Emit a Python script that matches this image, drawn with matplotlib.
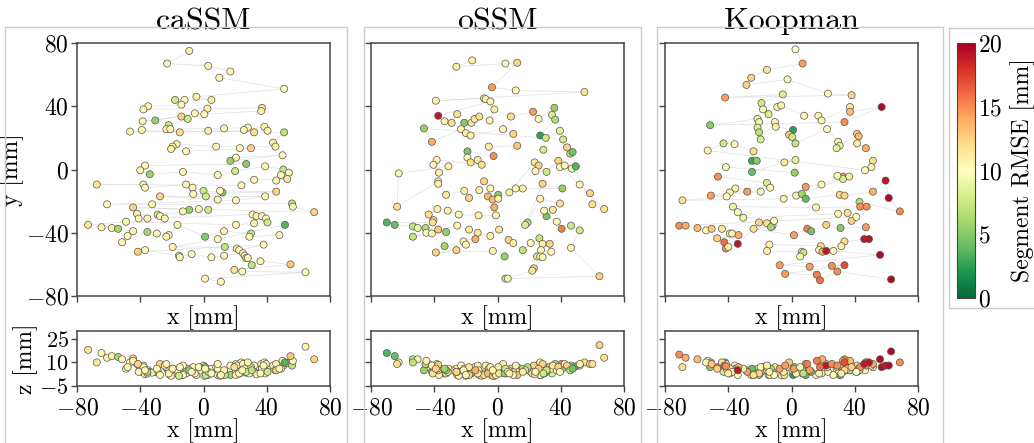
"""
Segment RMSE maps for caSSM, oSSM and Koopman (xy view + xz view).
"""

import matplotlib
matplotlib.use('Agg')
import matplotlib.pyplot as plt
from matplotlib.lines import Line2D
from matplotlib.patches import Rectangle
from matplotlib.cm import ScalarMappable
from matplotlib.colors import Normalize

plt.rcParams['font.family'] = 'serif'
plt.rcParams['font.serif'] = ['cmr10']
plt.rcParams['mathtext.fontset'] = 'cm'
plt.rcParams['axes.formatter.use_mathtext'] = True

# ---- caSSM ----
CASSM_X = [-9, -23, 3, 17, 10, 51, -4.5, 5, -18, -12,
           -14, -35, -38, 2.5, 37, 36.5, 0.5, -5.5, -30.5, -38.5,
           -14, -10, -22, -23.5, -21, 13, 28, 25.5, 38.5, 40.5,
           -46.5, -39, -15, 3, 32, 51, 44, 45.5, 8, -17,
           -19.5, -20.5, -11, 30, 23, 20.5, 50, 17, 27, -37,
           -40, -34, -13, 9, 20, 39, 50.5, 54, 49, 46,
           53, 32, 24, -67.5, -38, -37, -11, -7, 0, 12,
           10.5, 46, -6.5, 1.5, 9, -27.5, 39, 20.5, -61, -32.5,
           56, 56.5, 70, -44.5, -9, -13, -3, 3, -29, -27.5,
           -24.5, -42, -41, -35.5, 31, 33.5, 37, 39.5, 40.5, 32,
           20.5, -49, -73, -64.5, -58, -54, -44.5, -48, -51.5, -35.5,
           -29.5, -22, -23.5, -16.5, 1, 13, 30, 29, 48, 51.5,
           9, -19.5, 13.5, 21, 22.5, 38, -41.5, -37, -15.5, -15,
           -7.5, 5, 13, 25, 26, 27, 28, 30.5, 36, 55,
           19.5, 24.5, 64.5, 1, 11]
CASSM_Y = [75, 67, 65.5, 62, 58, 51, 46, 44, 44, 44,
           41, 40, 38, 38.5, 39, 37, 35, 35.5, 31, 30.5,
           33.5, 32, 28, 25.5, 25.5, 26, 26.5, 25, 27, 24.5,
           24, 25, 23.5, 24.5, 23.5, 23.5, 17, 14.5, 14.5, 16,
           14.5, 13, 11.5, 13.5, 13.5, 7.5, 9, 5.5, 3.5, 2.5,
           -0.5, -3, -1.5, -3.5, -1, 2, 0, -2, -3.5, -7,
           -6, -6.5, -10, -9.5, -9.5, -11.5, -9.5, -11.5, -13.5, -14.5,
           -13.5, -14, -15.5, -17, -19, -17, -17, -19.5, -22, -22,
           -21.5, -23.5, -27, -24, -25.5, -26.5, -25, -25.5, -28.5, -29.5,
           -31, -28, -31, -31, -28.5, -29.5, -29.5, -31, -33.5, -34,
           -35, -33, -35, -36.5, -37, -37.5, -39, -42, -46, -39.5,
           -40.5, -41.5, -42.5, -35, -42.5, -39, -40.5, -42.5, -41.5, -35,
           -44, -49, -49, -50, -51, -47.5, -52, -51, -54.5, -55.5,
           -53.5, -55.5, -54.5, -53, -54.5, -56, -56, -60.5, -58, -60,
           -63.5, -64.5, -65, -69, -71]
CASSM_Z = [4, 6, 5, 8, 3, 9, 2, 6, 5, 3,
           7, 5, 8, 4, 6, 9, 1.5, 3, 4, 6,
           2, 6, 4, 7, 2, 3, 8, 5, 10, 7,
           10, 4, 5, 2, 4, 9, 8, 5, 7, 3,
           6, 1.5, 4, 6, 3, 9, 11, 2, 3.5, 3,
           6, 4, 8, 2, 7, 5, 8, 10, 6, 9,
           9.5, 4, 10, 10, 7, 2.5, 3, 5, 8, 4,
           1.5, 5, 7, 2, 6, 9, 3, 5, 13, 3.5,
           8, 11, 12, 12.5, 5, 2, 7, 4, 5, 2,
           8, 9, 4, 3, 5, 2.5, 6, 9, 4, 8,
           2, 6, 18, 16, 14, 13.5, 11, 7, 12, 4,
           6, 3, 9, 5, 7, 4, 7, 3, 6, 10,
           9, 6, 2, 8, 3, 8, 9, 5, 1.5, 7,
           4, 3, 5, 9, 6, 4, 10, 5, 3, 14,
           7, 5, 20, 6, 2]
CASSM_ERR = [11, 10.5, 10.5, 10.5, 10.5, 10, 11, 11, 7.5, 10.5,
             10.5, 10.5, 10.5, 10.5, 11.5, 11, 10.5, 10.5, 5.5, 10.5,
             12.5, 7.5, 7.5, 11, 10.5, 10.5, 11, 10.5, 10.5, 11,
             10.5, 10.5, 12, 11, 12, 7, 11, 11, 10.5, 10.5,
             10.5, 11, 10.5, 12.5, 10.5, 10.5, 10.5, 5.5, 5, 10.5,
             10.5, 5.5, 10.5, 10.5, 7.5, 10.5, 7, 10.5, 10.5, 10.5,
             11.5, 10.5, 10.5, 11.5, 10.5, 10.5, 10.5, 10.5, 7.5, 5,
             10.5, 12.5, 10.5, 7.5, 10.5, 12.5, 10.5, 10.5, 10.5, 10.5,
             7, 10.5, 12.5, 12.5, 5.5, 10.5, 10.5, 7.5, 7.5, 10.5,
             10.5, 10.5, 10.5, 10.5, 10.5, 10.5, 10.5, 10.5, 7.5, 10.5,
             10.5, 10.5, 11.5, 10.5, 11, 6, 10.5, 10.5, 10.5, 6,
             10.5, 10.5, 10.5, 10.5, 5, 10.5, 7, 10.5, 10.5, 3.5,
             10.5, 10.5, 7, 10.5, 10.5, 10.5, 12.5, 10.5, 7.5, 10.5,
             10.5, 10.5, 10.5, 10.5, 10.5, 7.5, 10.5, 7, 10.5, 13,
             12, 10.5, 10.5, 10.5, 10.5]

# ---- oSSM ----
OSSM_X = [-16, -26, 5, 12.5, -3.5, 11.5, 55, -39, -8.5, -7.5,
          -4.5, -37.5, -33.5, -29, -25.5, -21, -16.5, -14.5, -11.5, -5,
          -2, 8.5, 22.5, 26, 36, 34.5, 36.5, 27, 30.5, 39.5,
          41.5, -46.5, -41.5, -23, -20, -17, 3.5, 10, 12.5, -5.5,
          -2.5, -19, -19, -17, -12.5, -10, -38.5, -40.5, -37, -31,
          -62.5, -63.5, -37.5, -37.5, -32.5, -21, -18, -11.5, -8.5, -4.5,
          -6, -3, 0.5, 0.5, -2, -1, -12, -24.5, -31.5, -38,
          -43.5, -40.5, -41, -70, -65, -53.5, -50.5, -45.5, -45, -41.5,
          -37.5, -32.5, -53.5, -25.5, -18, -12.5, -14, -4.5, 1, -21.5,
          -20, -33.5, -26, -39, -3, 4.5, 7, 10, 16, 21,
          26.5, 28.5, 33, 27.5, 34, 25, 27, 28.5, 23, 22,
          5, 6.5, 64.5, 46.5, 52, 46.5, 40.5, 37.5, 31, 29.5,
          35, 39.5, 27, 19, 17.5, 28.5, 41, 16, 11.5, 7.5,
          23.5, 26, 24, 31, 38.5, 39.5, 42.5, 47, 49.5, 44,
          46, 47.5, 52, 58.5, 60, 67.5, 29]
OSSM_Y = [69, 65, 67, 67.5, 52, 50, 49, 43.5, 45, 44.5,
          43, 34, 30.5, 29.5, 35, 29.5, 29.5, 32, 33.5, 31,
          38, 33.5, 36.5, 32, 39, 34.5, 31.5, 21.5, 20, 24.5,
          19, 26, 17.5, 25.5, 23, 21.5, 25.5, 22.5, 15, 14.5,
          8.5, 11.5, 7.5, 4.5, 6, 3, 6, 3, -2, 2,
          -2.5, -23.5, -7.5, -9, -16, -13.5, -18, -13, -7.5, -12,
          -17, -19, -16, -18.5, -24, -29, -29, -28.5, -26, -25,
          -28.5, -32, -33.5, -33.5, -35, -36, -37, -37, -40, -40.5,
          -38, -39.5, -42.5, -35.5, -38, -40, -44, -42, -38, -45.5,
          -47.5, -48.5, -51, -52.5, -51.5, -55, -44.5, -46.5, -51, -46.5,
          -43.5, -47, -47, -51, -52, -55, -55, -55.5, -62.5, -64,
          -69, -69, -67.5, -49.5, -38.5, -35.5, -37.5, -33, -29.5, -26,
          -25.5, -21.5, -18.5, -33.5, -35, -9, -12, -12, -12, -14.5,
          4.5, 2.5, -1, -1.5, 5.5, 1.5, 2.5, 0.5, 2, 14,
          10, 11, -9.5, -15, -22, -25, 12.5]
OSSM_Z = [4, 6, 3, 7, 2, 5, 10, 6, 3, 8,
          4.5, 7, 3, 5, 2, 6, 3, 7, 2, 5,
          1.5, 6, 4, 8, 6, 3, 9, 2, 7, 5,
          8, 5, 4, 8, 1.5, 4, 9, 4, 2, 6,
          3, 2, 5, 3, 8, 1.5, 9, 4, 2, 6,
          10, 9, 7, 5, 3, 6, 2, 4, 2, 6,
          3, 1.5, 4, 7, 3.5, 2, 5, 1.5, 4, 6,
          9, 7, 3, 16, 14, 12, 12, 9, 11, 8,
          8.5, 5, 10, 4, 7, 3, 5, 7, 3, 5,
          2, 6, 4, 6, 5, 3, 5, 2, 6, 4,
          9, 3, 7, 2, 6, 4, 10, 5, 8, 3,
          6, 4, 21, 8, 8, 7, 9, 5, 4, 3,
          8, 5, 2, 7, 5, 9, 6, 4, 8, 3,
          2.5, 6, 4, 5, 7, 4, 9, 6, 7.5, 8,
          5, 6, 9, 9, 9, 13, 3]
OSSM_ERR = [11, 11, 10.5, 12.5, 14.5, 10.5, 12, 10.5, 11, 11,
            11, 19, 10.5, 12, 12, 5, 11.5, 11, 12, 10.5,
            11, 12, 14.5, 10.5, 5.5, 8, 6.5, 2.5, 7.5, 8.5,
            7.5, 5.5, 14, 10.5, 11, 11, 10.5, 12.5, 13, 11,
            15, 4.5, 10.5, 12, 11, 12, 10.5, 10.5, 11, 11,
            10.5, 12, 11, 11, 11.5, 11, 12.5, 11, 12.5, 10.5,
            13.5, 13.5, 5, 11, 14, 10.5, 11, 10.5, 11, 11,
            12, 12.5, 12, 3.5, 4, 7, 9, 6.5, 10.5, 10.5,
            13, 5.5, 7, 10.5, 11.5, 11.5, 14, 11, 11.5, 10.5,
            10.5, 6, 12.5, 12.5, 10.5, 5.5, 12.5, 11, 7, 10.5,
            7, 11, 12.5, 10.5, 10.5, 8, 10, 9.5, 12.5, 11.5,
            7.5, 9.5, 12.5, 10.5, 7.5, 7.5, 15.5, 10.5, 4.5, 10.5,
            11.5, 12, 10.5, 6.5, 8, 12.5, 5.5, 11, 10.5, 11,
            11.5, 12.5, 10.5, 7.5, 12.5, 10.5, 10.5, 9, 3.5, 12.5,
            7, 4.5, 10.5, 12.5, 12, 12, 7.5]

# ---- Koopman ----
KOOP_X = [2.5, 7, -15.5, -25.5, -28.5, -2.5, 23, 38, -42, -5.5,
          -19, -18, -14.5, -9, -6.5, 8, 17, 19, 37, 37,
          57, 33.5, -51.5, -21.5, -20.5, -21.5, -20.5, -19.5, -10.5, -10,
          1, -1.5, 0.5, 2.5, 22.5, 29.5, 30.5, 28.5, 41.5, 42.5,
          41.5, 47, 51.5, 50.5, 46.5, -53, -43, -36, -24, -25,
          -22, -25, -4.5, 2.5, 2, -41.5, -46.5, -15.5, -13.5, -35.5,
          -39, -28, -19.5, -51, -41, -69, -5, 9, 19, 32.5,
          32.5, 29, 36.5, 3, 6.5, 9, 30.5, 33.5, 51.5, 59.5,
          61.5, 68.5, 43, 43.5, 47.5, 15.5, -37, -34, -30.5, 29.5,
          35.5, 38, 41, -71, -67, -59.5, -54, -50.5, -44, -39,
          -37.5, -33.5, -47, -42.5, -41.5, -40, -34, -20.5, -15.5, -12,
          -11, -13, -24, 1.5, 10, 12.5, 22, 31, 47, 46,
          49, 33.5, 31.5, -14, -15.5, 6.5, 7.5, 5.5, 18.5, 17.5,
          19.5, 22, 26.5, 56, -7.5, 11.5, 25.5, 33.5, -4, 16,
          18, 29, 63]
KOOP_Y = [76, 67, 63, 58, 53.5, 57, 48, 47, 45.5, 47.5,
          42, 38, 35, 39.5, 40.5, 34, 34, 31, 39.5, 36.5,
          39.5, 30, 28, 32, 30, 26.5, 23.5, 19, 30, 27,
          25, 22, 20.5, 16.5, 25.5, 17.5, 15, 13.5, 22.5, 21,
          16.5, 13.5, 5.5, 1.5, -0.5, 12, 16.5, 16, 11.5, 5.5,
          5.5, -1.5, 4.5, 6, -2, 1.5, -4.5, -8.5, -11.5, -12,
          -14.5, -14, -14, -16.5, -17, -19.5, -18.5, -11, -9.5, -4.5,
          -6, -4, -4.5, -16.5, -15.5, -18.5, -16, -16.5, -14, -7,
          -18, -26.5, -20.5, -23.5, -23.5, -24, -23.5, -27, -30.5, -28,
          -27.5, -32.5, -30, -35.5, -35.5, -37, -38.5, -37.5, -37.5, -40.5,
          -40.5, -41.5, -43.5, -46, -50, -49, -47, -33.5, -34, -35.5,
          -32.5, -36.5, -37.5, -41.5, -37.5, -39, -35, -37, -36.5, -44,
          -44, -45.5, -48.5, -47.5, -51.5, -52, -52.5, -55, -48.5, -51,
          -52, -51.5, -51.5, -54, -60.5, -61.5, -61, -60.5, -66, -66.5,
          -70, -64.5, -69.5]
KOOP_Z = [4, 3, 6, 2, 5, 7, 4, 8, 10, 3,
          4, 7, 2, 5, 2, 6, 3, 8, 5, 11,
          7, 12, 7, 5, 3, 6, 2, 4, 7, 3,
          2, 10, 5, 3, 7, 4, 2, 6, 8, 6,
          4, 10, 7, 8, 5, 11, 4, 8, 2, 5,
          3, 6, 2, 4, 7, 9, 7, 5, 2, 6,
          3, 4, 7, 10, 6, 7, 4, 9, 3, 11,
          4, 7, 5, 3, 6, 2, 8, 5, 9, 8,
          8, 10, 5, 7, 10, 2, 5, 2, 6, 3,
          6, 7, 4, 15, 13, 12, 10, 9, 10, 6,
          4, 7, 6, 8, 7.5, 3, 5, 3, 7, 4,
          2, 6, 2, 6, 9, 4, 9, 2, 8, 9,
          10, 5, 3, 4, 8, 5, 3, 7, 11, 3,
          12, 8, 2, 12, 6, 5, 9, 10, 8, 11,
          7, 8, 17]
KOOP_ERR = [10, 14.5, 11.5, 12.5, 12.5, 10.5, 10.5, 12.5, 14.5, 8,
            7.5, 9.5, 8, 11, 10.5, 10.5, 10.5, 10.5, 11.5, 13.5,
            19.5, 15, 5, 9.5, 9, 8, 7, 8, 10.5, 11,
            2.5, 13, 7.5, 7, 10.5, 11, 8.5, 9, 12.5, 13.5,
            11, 14, 12, 11, 10.5, 10.5, 7.5, 10.5, 12, 3,
            5, 4, 11.5, 8.5, 5.5, 9.5, 15, 8, 10.5, 9,
            11, 14.5, 10.5, 14.5, 10, 12, 11, 14.5, 10.5, 14.5,
            8, 10.5, 11, 10.5, 6, 4, 12.5, 12.5, 14, 19,
            19.5, 15, 6.5, 15, 15, 10.5, 9, 10, 9, 10.5,
            12, 12.5, 10, 15, 14, 13.5, 10.5, 13, 11.5, 11,
            11, 14, 12.5, 16, 15, 11, 19, 12.5, 12, 12,
            10, 6, 12, 14.5, 15.5, 4.5, 12.5, 5, 14.5, 19,
            19, 12, 11, 11, 11, 11, 7, 9.5, 12, 10.5,
            14, 19, 10.5, 19.5, 14.5, 14.5, 15, 17, 14.5, 15.5,
            16, 15, 19.5]

MODELS = ['caSSM', 'oSSM', 'Koopman']
PANELS = [(CASSM_X, CASSM_Y, CASSM_Z, CASSM_ERR),
          (OSSM_X, OSSM_Y, OSSM_Z, OSSM_ERR),
          (KOOP_X, KOOP_Y, KOOP_Z, KOOP_ERR)]

CMAP = 'RdYlGn_r'
NORM = Normalize(vmin=0, vmax=20)

W, H = 1034, 443
fig = plt.figure(figsize=(W / 100, H / 100), dpi=100)


def fx(px):
    return px / W


def fy(py):
    return 1 - py / H


# light frames around each column and the colorbar
frame_kw = dict(color='#cccccc', linewidth=1.0, transform=fig.transFigure)
for x0, x1 in [(5, 347), (364, 641), (657, 943)]:
    fig.add_artist(Line2D([fx(x0), fx(x1)], [fy(26.5), fy(26.5)], **frame_kw))
    fig.add_artist(Line2D([fx(x0), fx(x0)], [fy(26.5), 0], **frame_kw))
    fig.add_artist(Line2D([fx(x1), fx(x1)], [fy(26.5), 0], **frame_kw))
fig.add_artist(Rectangle((fx(949), fy(308)), fx(100), (308 - 28) / H,
                         fill=False, edgecolor='#cccccc', linewidth=1.0,
                         transform=fig.transFigure))

lefts = [77, 371, 665]
AX_W = 253

for i, (name, (xs, ys, zs, errs)) in enumerate(zip(MODELS, PANELS)):
    ax = fig.add_axes([fx(lefts[i]), fy(296), AX_W / W, 253 / H])
    axz = fig.add_axes([fx(lefts[i]), fy(386), AX_W / W, 55 / H])

    for a in (ax, axz):
        for s in a.spines.values():
            s.set_color('#444444')
            s.set_linewidth(1.1)
        a.tick_params(direction='out', length=4, width=1, color='#444444',
                      labelsize=17, pad=2, top=False, right=False)
    axz.tick_params(axis='y', labelsize=16)
    axz.tick_params(axis='x', pad=4)

    ax.plot(xs, ys, color='#e0e0e0', linewidth=0.5, zorder=1)
    ax.scatter(xs, ys, c=errs, cmap=CMAP, norm=NORM, s=26,
               edgecolors='#555555', linewidths=0.5, zorder=2)
    ax.set_xlim(-80, 80)
    ax.set_ylim(-80, 80)
    ax.set_xticks([-80, -40, 0, 40, 80])
    ax.set_yticks([-80, -40, 0, 40, 80])
    ax.set_xticklabels([])
    ax.set_xlabel('x [mm]', fontsize=17, labelpad=1)
    ax.set_title(name, fontsize=23, pad=10)

    axz.scatter(xs, zs, c=errs, cmap=CMAP, norm=NORM, s=26,
                edgecolors='#555555', linewidths=0.5, zorder=2)
    axz.set_xlim(-80, 80)
    axz.set_ylim(-5, 30)
    axz.set_xticks([-80, -40, 0, 40, 80])
    axz.set_yticks([-5, 10, 25])
    axz.set_xlabel('x [mm]', fontsize=17, labelpad=-1)

    if i == 0:
        ax.set_ylabel('y [mm]', fontsize=17, labelpad=1)
        axz.set_ylabel('z [mm]', fontsize=17, labelpad=1)
    else:
        ax.set_yticklabels([])
        axz.set_yticklabels([])

cax = fig.add_axes([fx(957), fy(298), 18 / W, 255 / H])
cb = fig.colorbar(ScalarMappable(norm=NORM, cmap=CMAP), cax=cax)
cb.set_ticks([0, 5, 10, 15, 20])
cb.ax.tick_params(labelsize=17, length=0, pad=2)
cb.outline.set_edgecolor('#444444')
cb.set_label('Segment RMSE [mm]', fontsize=17, labelpad=6)

fig.savefig('out.png', dpi=100, facecolor='white')
